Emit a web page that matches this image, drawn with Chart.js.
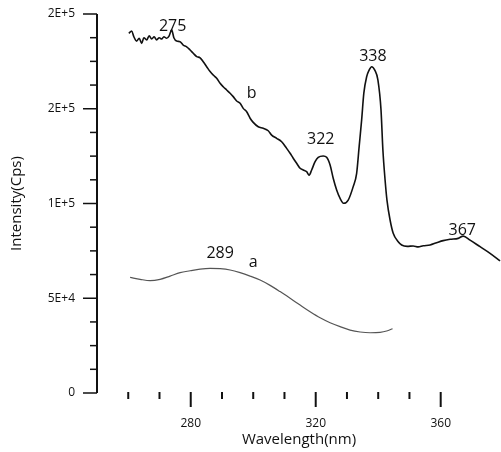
<!DOCTYPE html>
<html>
<head>
<meta charset="utf-8">
<script src="https://cdn.jsdelivr.net/npm/chart.js@4/dist/chart.umd.min.js"></script>
<style>body{margin:0;background:#fff}</style>
</head>
<body>
<canvas id="spectra" width="501" height="452"></canvas>
<script>
// curve b (upper spectrum)
var waveB = [260.2, 261.1, 261.8, 262.7, 263.5, 264.3, 265.0, 265.9, 266.7, 267.5, 268.3, 269.1, 269.9, 270.7, 271.4, 272.3, 273.1, 273.9, 274.6, 275.5,
  276.6, 277.6, 278.7, 279.8, 280.8, 281.9, 283.0, 284.0, 285.1, 286.2, 287.2, 288.3, 289.4, 290.4, 291.5, 292.6, 293.6, 294.7, 295.8, 296.8,
  297.9, 299.0, 300.0, 301.6, 303.2, 304.8, 305.9, 307.5, 309.1, 310.7, 311.8, 312.8, 313.9, 315.0, 316.0, 317.1, 317.9, 318.7, 319.8, 320.8,
  322.4, 323.5, 324.6, 325.6, 326.7, 327.8, 329.0, 330.4, 332.0, 333.1, 333.9, 334.7, 335.4, 336.3, 337.1, 337.9, 338.9, 339.9, 340.9, 341.5,
  342.2, 342.8, 343.8, 344.8, 346.4, 347.5, 349.3, 351.2, 352.8, 354.4, 356.6, 358.7, 360.8, 363.0, 365.6, 367.2, 369.4, 372.6, 375.8, 379.0];
var intB = [189800, 191000, 188000, 185700, 187200, 184500, 187500, 186300, 188500, 186800, 188000, 186300, 187500, 186800, 188000, 187200, 188500, 191600, 187500, 185700,
  185400, 183600, 182700, 181000, 179300, 177500, 176900, 174800, 172200, 169600, 167800, 166100, 163400, 161600, 159900, 158200, 156400, 154100, 152900, 150200,
  148400, 145000, 142800, 140500, 139700, 138400, 136100, 134400, 132600, 129100, 126500, 123900, 121200, 118600, 117700, 116800, 115000, 117700, 122100, 124400,
  125100, 124400, 120300, 113300, 107100, 102700, 100100, 101800, 108900, 115900, 130000, 144100, 158200, 166900, 170400, 172200, 170400, 165200, 149300, 128200,
  112400, 101800, 91300, 84300, 79800, 78100, 77400, 77600, 77100, 77700, 78100, 79300, 80400, 81100, 81600, 82800, 80700, 77200, 73700, 69700];

// curve a (lower spectrum)
var waveA = [260.6, 263.8, 267.0, 270.2, 273.4, 276.6, 279.8, 283.0, 286.2, 289.4, 292.6, 295.8, 299.0, 302.2,
  305.4, 308.6, 311.8, 315.0, 318.2, 321.4, 324.6, 327.8, 331.0, 334.2, 337.4, 340.6, 342.7, 344.6];
var intA = [61000, 60000, 59300, 60000, 61700, 63500, 64500, 65400, 65800, 65600, 64900, 63500, 61700, 59600,
  56800, 53500, 50000, 46400, 42900, 39700, 37100, 35000, 33200, 32200, 31800, 32000, 32700, 33900];

var yTickVals = [0, 50000, 100000, 150000, 200000];
var yTickText = ['0', '5E+4', '1E+5', '2E+5', '2E+5'];
var xTickVals = [280, 320, 360];

// peak / curve labels
var noteText = ['275', 'b', '322', '338', '367', '289', 'a'];
var noteWave = [274.2, 299.5, 321.6, 338.3, 366.9, 289.4, 300.0];
var noteInt = [193700, 158100, 133900, 177800, 85600, 73400, 68800];

function pairs(xs, ys) {
  return xs.map(function (x, i) { return {x: x, y: ys[i]}; });
}

var axisPlugin = {
  id: 'axisMarks',
  afterDraw: function (chart) {
    var ctx = chart.ctx, xs = chart.scales.x, ys = chart.scales.y, ca = chart.chartArea;
    ctx.save();
    ctx.strokeStyle = '#111';
    // y axis line
    ctx.lineWidth = 2;
    ctx.beginPath();
    ctx.moveTo(ca.left, ca.top);
    ctx.lineTo(ca.left, ca.bottom);
    ctx.stroke();
    ctx.lineWidth = 1.5;
    ys.ticks.forEach(function (t) {
      var py = ys.getPixelForValue(t.value);
      var len = yTickVals.indexOf(t.value) >= 0 ? 14 : 7;
      ctx.beginPath();
      ctx.moveTo(ca.left - len, py);
      ctx.lineTo(ca.left, py);
      ctx.stroke();
    });
    ctx.lineWidth = 2;
    xs.ticks.forEach(function (t) {
      if (t.value <= xs.min || Math.abs(t.value % 10) > 1e-6) return;
      var px = xs.getPixelForValue(t.value);
      var major = xTickVals.indexOf(t.value) >= 0;
      ctx.beginPath();
      ctx.moveTo(px, ca.bottom - 1);
      ctx.lineTo(px, ca.bottom + (major ? 14 : 6));
      ctx.stroke();
    });
    // labels
    ctx.fillStyle = '#111';
    ctx.font = '16px "Open Sans"';
    ctx.textAlign = 'center';
    ctx.textBaseline = 'middle';
    noteText.forEach(function (s, i) {
      ctx.fillText(s, xs.getPixelForValue(noteWave[i]), ys.getPixelForValue(noteInt[i]));
    });
    ctx.restore();
  }
};

var chart = new Chart(document.getElementById('spectra').getContext('2d'), {
  type: 'line',
  data: {
    datasets: [{
      label: 'b',
      data: pairs(waveB, intB),
      borderColor: '#111',
      borderWidth: 1.6,
      pointRadius: 0,
      cubicInterpolationMode: 'monotone'
    }, {
      label: 'a',
      data: pairs(waveA, intA),
      borderColor: '#555',
      borderWidth: 1.2,
      pointRadius: 0,
      cubicInterpolationMode: 'monotone'
    }]
  },
  options: {
    responsive: false,
    animation: false,
    layout: {padding: {top: 14, right: 0, left: 0, bottom: 0}},
    plugins: {legend: {display: false}, tooltip: {enabled: false}},
    scales: {
      x: {
        type: 'linear',
        min: 250,
        max: 379.3,
        grid: {display: false, drawTicks: false},
        border: {display: false},
        afterFit: function (s) { s.height = 59; s.paddingLeft = 0; s.paddingRight = 0; },
        ticks: {
          stepSize: 10,
          autoSkip: false,
          maxRotation: 0,
          padding: 23,
          color: '#111',
          font: {family: '"Open Sans"', size: 12},
          callback: function (v) { return xTickVals.indexOf(v) >= 0 ? String(v) : ''; }
        },
        title: {
          display: true,
          text: 'Wavelength(nm)',
          color: '#111',
          font: {family: '"Open Sans"', size: 15},
          padding: {top: 0, bottom: 3}
        }
      },
      y: {
        min: 0,
        max: 200000,
        grid: {display: false, drawTicks: false},
        border: {display: false},
        afterFit: function (s) { s.width = 97; s.paddingTop = 0; s.paddingBottom = 0; },
        ticks: {
          stepSize: 12500,
          autoSkip: false,
          padding: 22,
          color: '#111',
          font: {family: '"Open Sans"', size: 12},
          callback: function (v) {
            var i = yTickVals.indexOf(v);
            return i >= 0 ? yTickText[i] : '';
          }
        },
        title: {
          display: true,
          text: 'Intensity(Cps)',
          color: '#111',
          font: {family: '"Open Sans"', size: 15},
          padding: {top: 8, bottom: 0}
        }
      }
    }
  },
  plugins: [axisPlugin]
});
</script>
</body>
</html>
